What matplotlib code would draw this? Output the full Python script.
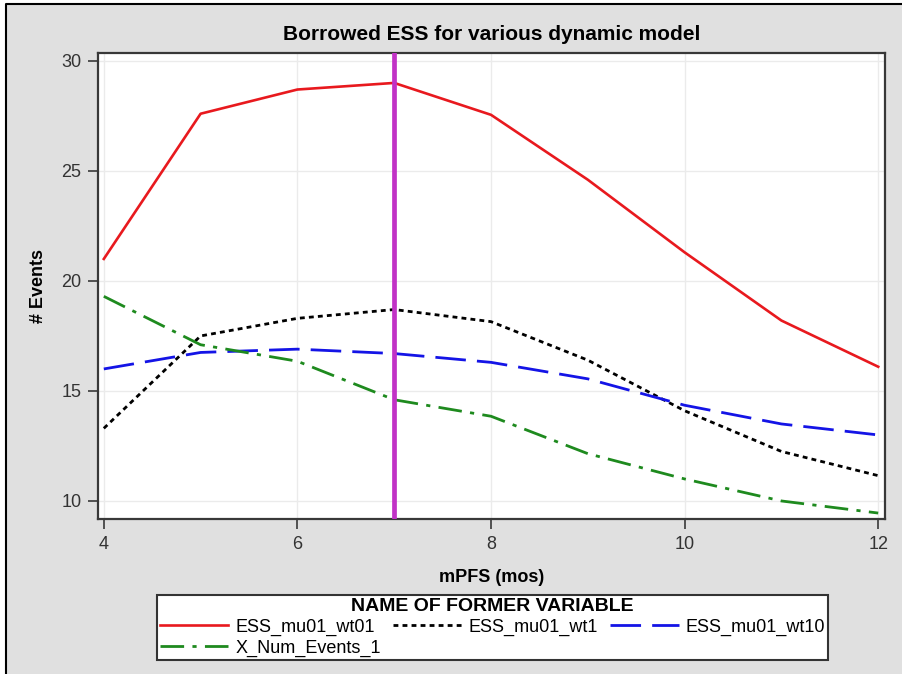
import matplotlib
matplotlib.use("Agg")
import matplotlib.pyplot as plt
from matplotlib.patches import Rectangle
from matplotlib.lines import Line2D

plt.rcParams['font.family'] = ['Liberation Sans', 'DejaVu Sans']
plt.rcParams['lines.scale_dashes'] = False

# mPFS (months) on the x axis
mpfs = [4, 5, 6, 7, 8, 9, 10, 11, 12]

# number of events per model
ess_mu01_wt01 = [21.0, 27.6, 28.7, 29.0, 27.55, 24.6, 21.3, 18.2, 16.1]
ess_mu01_wt1 = [13.3, 17.5, 18.3, 18.7, 18.15, 16.4, 14.1, 12.25, 11.15]
ess_mu01_wt10 = [16.0, 16.75, 16.9, 16.7, 16.3, 15.55, 14.35, 13.5, 13.0]
x_num_events_1 = [19.3, 17.1, 16.35, 14.6, 13.85, 12.15, 11.0, 10.0, 9.45]

ref_mpfs = 7

xticks = [4, 6, 8, 10, 12]
yticks = [10, 15, 20, 25, 30]

W, H = 903, 674
fig = plt.figure(figsize=(W / 100, H / 100), dpi=100, facecolor='white')

# grey panel, black frame on the left and top edges
fig.patches.append(Rectangle((6 / W, 0), 1, 1 - 4 / H,
                             transform=fig.transFigure, facecolor='#e0e0e0',
                             edgecolor='none', zorder=-10))
fig.lines.append(Line2D([6 / W, 6 / W, 1], [0, 1 - 4 / H, 1 - 4 / H],
                        transform=fig.transFigure, color='black', lw=1.5))

ax = fig.add_axes([98 / W, 1 - 519 / H, (885 - 98) / W, (519 - 53) / H])
ax.set_facecolor('white')

l1, = ax.plot(mpfs, ess_mu01_wt01, color='#e8191e', lw=1.9,
              label='ESS_mu01_wt01')
l2, = ax.plot(mpfs, ess_mu01_wt1, color='black', lw=2.0,
              linestyle=(0, (3.5, 3)), label='ESS_mu01_wt1')
l3, = ax.plot(mpfs, ess_mu01_wt10, color='#1414e6', lw=2.0,
              linestyle=(0, (22, 8)), label='ESS_mu01_wt10')
l4, = ax.plot(mpfs, x_num_events_1, color='#1e8a1e', lw=2.0,
              linestyle=(0, (17, 6, 3, 6)), label='X_Num_Events_1')

ax.axvline(ref_mpfs, color='#c132c6', lw=3.4, zorder=5)

ax.set_xlim(3.94, 12.07)
ax.set_ylim(9.18, 30.36)
ax.set_xticks(xticks)
ax.set_yticks(yticks)
ax.grid(True, color='#ebebeb', lw=1.0)
ax.set_axisbelow(True)
for s in ax.spines.values():
    s.set_color('#383838')
    s.set_linewidth(1.6)
ax.tick_params(direction='out', length=7, width=1.2, color='#383838',
               labelsize=13, labelcolor='#333333', pad=5)

ax.set_title('Borrowed ESS for various dynamic model', fontsize=15,
             fontweight='bold', pad=9)
ax.set_xlabel('mPFS (mos)', fontsize=13, fontweight='bold', labelpad=12)
ax.set_ylabel('# Events', fontsize=13, fontweight='bold', labelpad=10)

# row-major ordering for a 3-column legend
handles = [l1, l4, l2, l3]
leg = fig.legend(handles=handles, labels=[h.get_label() for h in handles],
                 ncol=3, loc='center', mode='expand',
                 bbox_to_anchor=(157 / W, 1 - 661 / H, (828 - 157) / W, (661 - 594) / H),
                 title='NAME OF FORMER VARIABLE', fontsize=13,
                 title_fontproperties={'weight': 'bold', 'size': 14},
                 frameon=True, fancybox=False, edgecolor='#333333',
                 framealpha=1, borderaxespad=0, borderpad=0.15,
                 handlelength=3.8, handletextpad=0.4, labelspacing=0.2,
                 columnspacing=1.0)
leg.get_frame().set_linewidth(1.5)

fig.savefig('out.png', dpi=100, facecolor=fig.get_facecolor())
